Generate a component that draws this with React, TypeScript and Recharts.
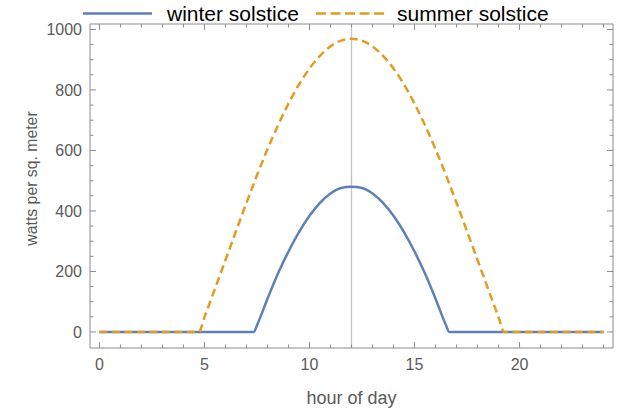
import React from 'react';
import { LineChart, Line, XAxis, YAxis, ReferenceLine, Legend } from 'recharts';

const hours = [0, 1, 2, 3, 4, 4.73, 5, 5.5, 6, 6.5, 7, 7.35, 7.5, 8, 8.5, 9, 9.5, 10, 10.5, 11, 11.5, 12, 12.5, 13, 13.5, 14, 14.5, 15, 15.5, 16, 16.5, 16.65, 17, 17.5, 18, 18.5, 19, 19.27, 20, 21, 22, 23, 24];

const winter = [0, 0, 0, 0, 0, 0, 0, 0, 0, 0, 0, 0,
  22, 110, 193, 266, 330, 384, 427, 458, 476, 480, 476, 458, 427, 384, 330, 266, 193, 110, 22,
  0, 0, 0, 0, 0, 0, 0, 0, 0, 0, 0, 0];

const summer = [0, 0, 0, 0, 0, 0, 49, 143, 238, 333, 427, 491,
  518, 604, 683, 755, 818, 871, 913, 944, 963, 969, 963, 944, 913, 871, 818, 755, 683, 604, 518,
  491, 427, 333, 238, 143, 49, 0, 0, 0, 0, 0, 0];

const xTicks = [0, 1, 2, 3, 4, 5, 6, 7, 8, 9, 10, 11, 12, 13, 14, 15, 16, 17, 18, 19, 20, 21, 22, 23, 24];
const yTicks = [0, 50, 100, 150, 200, 250, 300, 350, 400, 450, 500, 550, 600, 650, 700, 750, 800, 850, 900, 950, 1000];

const seriesNames = ['winter solstice', 'summer solstice'];
const xLabel = 'hour of day';
const yLabel = 'watts per sq. meter';

const data = hours.map((h, i) => ({ hour: h, winter: winter[i], summer: summer[i] }));

const FRAME = '#8c8c8c';
const TEXT = '#5a5a5a';
const BLUE = '#5E81B5';
const ORANGE = '#E19C24';
const FONT = '"Liberation Sans", Arial, sans-serif';

const XTickBottom = (props: any) => {
  const { x, y, payload } = props;
  const v = payload.value;
  const major = v % 5 === 0;
  return (
    <g>
      <line x1={x} x2={x} y1={y} y2={y - (major ? 6 : 3.5)} stroke={FRAME} strokeWidth={1} />
      {major && (
        <text x={x} y={y + 22} textAnchor="middle" fill={TEXT} fontSize={16} fontFamily={FONT}>{v}</text>
      )}
    </g>
  );
};

const XTickTop = (props: any) => {
  const { x, y, payload } = props;
  const major = payload.value % 5 === 0;
  return <line x1={x} x2={x} y1={y} y2={y + (major ? 6 : 3.5)} stroke={FRAME} strokeWidth={1} />;
};

const YTickLeft = (props: any) => {
  const { x, y, payload } = props;
  const v = payload.value;
  const major = v % 200 === 0;
  return (
    <g>
      <line x1={x} x2={x + (major ? 6 : 3.5)} y1={y} y2={y} stroke={FRAME} strokeWidth={1} />
      {major && (
        <text x={x - 8} y={y + 6} textAnchor="end" fill={TEXT} fontSize={16} fontFamily={FONT}>{v}</text>
      )}
    </g>
  );
};

const YTickRight = (props: any) => {
  const { x, y, payload } = props;
  const major = payload.value % 200 === 0;
  return <line x1={x} x2={x - (major ? 6 : 3.5)} y1={y} y2={y} stroke={FRAME} strokeWidth={1} />;
};

const LegendContent = () => (
  <svg width={622} height={24} style={{ display: 'block' }}>
    <line x1={83} x2={152} y1={13.5} y2={13.5} stroke={BLUE} strokeWidth={2.5} />
    <text x={167} y={21} fontSize={21} fontFamily={FONT} fill="#000">{seriesNames[0]}</text>
    <line x1={316} x2={384} y1={13.5} y2={13.5} stroke={ORANGE} strokeWidth={2.5} strokeDasharray="10 4.5" />
    <text x={397} y={21} fontSize={21} fontFamily={FONT} fill="#000">{seriesNames[1]}</text>
  </svg>
);

export default function App() {
  return (
    <div style={{ width: 622, height: 410, background: '#fff' }}>
      <style>{'body{margin:0;}'}</style>
      <LineChart width={622} height={410} data={data} margin={{ top: 23, right: 8, bottom: 32, left: 30 }}>
        <Legend
          layout="horizontal"
          verticalAlign="middle"
          align="center"
          wrapperStyle={{ top: 0, left: 0, width: 622, height: 24 }}
          content={LegendContent}
        />
        <XAxis
          dataKey="hour"
          type="number"
          domain={[-0.45, 24.45]}
          allowDataOverflow
          ticks={xTicks}
          interval={0}
          tickSize={0}
          tickMargin={0}
          tickLine={false}
          axisLine={{ stroke: FRAME }}
          tick={XTickBottom}
          height={30}
          label={() => (
            <text x={351.5} y={404} textAnchor="middle" fill={TEXT} fontSize={18} fontFamily={FONT}>{xLabel}</text>
          )}
        />
        <XAxis
          xAxisId="top"
          orientation="top"
          dataKey="hour"
          type="number"
          domain={[-0.45, 24.45]}
          allowDataOverflow
          ticks={xTicks}
          interval={0}
          tickSize={0}
          tickMargin={0}
          tickLine={false}
          axisLine={{ stroke: FRAME }}
          tick={XTickTop}
          height={1}
        />
        <YAxis
          type="number"
          domain={[-53, 1018]}
          allowDataOverflow
          ticks={yTicks}
          interval={0}
          tickSize={0}
          tickMargin={0}
          tickLine={false}
          axisLine={{ stroke: FRAME }}
          tick={YTickLeft}
          width={60}
          label={() => (
            <text x={37} y={178.5} transform="rotate(-90 37 178.5)" textAnchor="middle" fill={TEXT} fontSize={15.8} fontFamily={FONT}>{yLabel}</text>
          )}
        />
        <YAxis
          yAxisId="right"
          orientation="right"
          type="number"
          domain={[-53, 1018]}
          allowDataOverflow
          ticks={yTicks}
          interval={0}
          tickSize={0}
          tickMargin={0}
          tickLine={false}
          axisLine={{ stroke: FRAME }}
          tick={YTickRight}
          width={1}
        />
        <ReferenceLine x={12} stroke="#c4c4c4" strokeWidth={1.3} />
        <Line
          xAxisId="top"
          yAxisId="right"
          dataKey="winter"
          stroke="none"
          dot={false}
          activeDot={false}
          legendType="none"
          isAnimationActive={false}
        />
        <Line
          type="monotone"
          dataKey="winter"
          name={seriesNames[0]}
          stroke={BLUE}
          strokeWidth={2.5}
          dot={false}
          activeDot={false}
          isAnimationActive={false}
        />
        <Line
          type="monotone"
          dataKey="summer"
          name={seriesNames[1]}
          stroke={ORANGE}
          strokeWidth={2.5}
          strokeDasharray="8 4.5"
          dot={false}
          activeDot={false}
          isAnimationActive={false}
        />
      </LineChart>
    </div>
  );
}
